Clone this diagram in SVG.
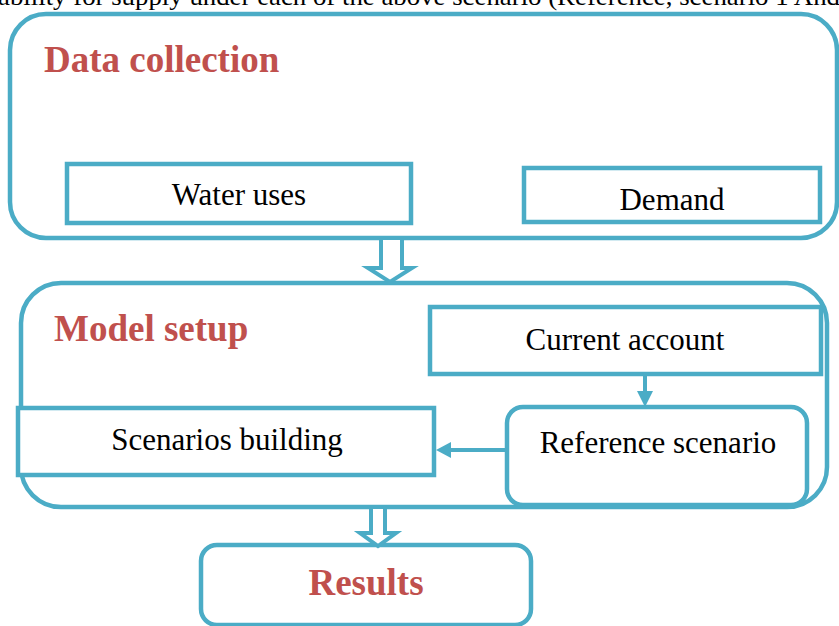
<svg xmlns="http://www.w3.org/2000/svg" width="839" height="626" viewBox="0 0 839 626">
<style>
.box{fill:none;stroke:#4BACC6;stroke-width:4.5}
.fbox{fill:#fff;stroke:#4BACC6;stroke-width:4.5}
.t{font-family:"Liberation Serif","Times New Roman",serif;font-size:31px;fill:#000;text-anchor:middle}
.h{font-family:"Liberation Serif","Times New Roman",serif;font-size:37px;font-weight:bold;fill:#C0504D}
.ln{stroke:#4BACC6;stroke-width:4;fill:none}
.ah{fill:#4BACC6}
.blk{fill:#fff;stroke:#4BACC6;stroke-width:4;stroke-linejoin:miter}
</style>
<rect width="839" height="626" fill="#fff"/>
<text x="-2" y="5" font-family="Liberation Serif, serif" font-size="26" fill="#000" textLength="842" lengthAdjust="spacingAndGlyphs">ability for supply under each of the above scenario (Reference, scenario 1 And</text>
<g id="data-collection">
<rect class="box" x="10" y="14" width="827" height="224" rx="36"/>
<text class="h" x="44" y="72">Data collection</text>
</g>
<g id="water-uses">
<rect class="fbox" x="67" y="164" width="344" height="59"/>
<text class="t" x="239" y="205">Water uses</text>
</g>
<g id="demand">
<rect class="fbox" x="524" y="168" width="296" height="54"/>
<text class="t" x="672" y="210">Demand</text>
</g>
<g id="model-setup">
<rect class="box" x="21" y="283" width="806" height="224" rx="40"/>
<text class="h" x="54" y="341">Model setup</text>
</g>
<g id="current-account">
<rect class="fbox" x="430" y="307" width="391" height="67"/>
<text class="t" x="625" y="350">Current account</text>
</g>
<g id="reference-scenario">
<rect class="fbox" x="507" y="407" width="300" height="98" rx="16"/>
<text class="t" x="658" y="453">Reference scenario</text>
</g>
<g id="scenarios-building">
<rect class="fbox" x="18" y="408" width="416" height="67"/>
<text class="t" x="227" y="450">Scenarios building</text>
</g>
<g id="results">
<rect class="fbox" x="201" y="545" width="330" height="80" rx="16"/>
<text class="h" x="366" y="595" text-anchor="middle">Results</text>
</g>
<g id="connectors">
<path class="blk" d="M381,240 V268 H368 L390,282 L412,268 H402 V240"/>
<path class="blk" d="M371,509 V533 H360 L378,546 L396,533 H385 V509"/>
<line class="ln" x1="645" y1="374" x2="645" y2="394"/>
<polygon class="ah" points="637,391 653,391 645,407"/>
<line class="ln" x1="507" y1="450" x2="448" y2="450"/>
<polygon class="ah" points="451,442 451,458 436,450"/>
</g>
</svg>
